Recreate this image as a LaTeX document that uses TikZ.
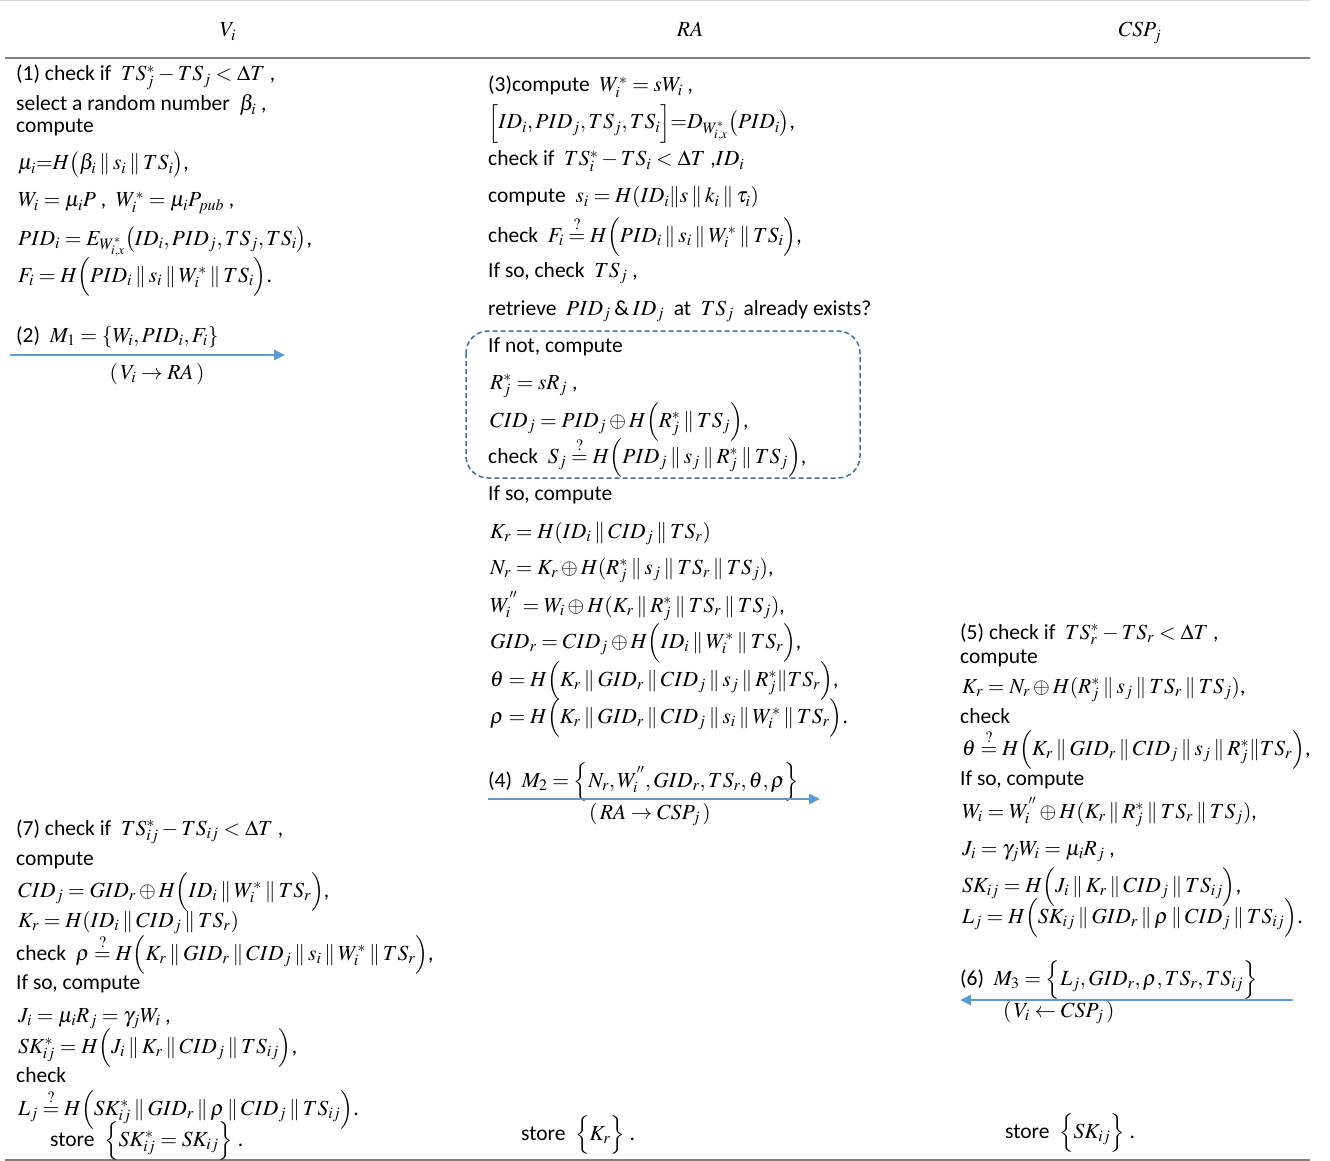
\documentclass[tikz,border=0pt]{standalone}
\usepackage{mathptmx}
\usepackage[no-math]{fontspec}
\setmainfont{Carlito}
\usetikzlibrary{arrows.meta}
\newcommand{\cc}{\mathbin{\|}}
\newcommand{\qeq}{\stackrel{?}{=}}
\definecolor{arrblue}{HTML}{5B9BD5}
\definecolor{boxblue}{HTML}{41719C}
\definecolor{rulegray}{HTML}{808080}
\definecolor{lightgray}{HTML}{D9D9D9}
\begin{document}
\begin{tikzpicture}[x=1pt,y=-1pt,
  txt/.style={anchor=base west,inner sep=0pt,font=\fontsize{21.5}{24}\selectfont},
  ctr/.style={anchor=base,inner sep=0pt,font=\fontsize{21.5}{24}\selectfont},
  msg/.style={draw=arrblue,line width=2.5pt,-{Triangle[length=11pt,width=10pt]}},
  hrule/.style={draw=rulegray,line width=2pt}]
\useasboundingbox (0,0) rectangle (1330,1161);
% rules
\draw[lightgray,line width=1pt] (0,1) -- (1310,1);
\draw[hrule] (5,58) -- (1310,58);
\draw[hrule] (5,1160) -- (1310,1160);
% headers
\node[ctr] (hV) at (228,37) {$V_i$};
\node[ctr] (hRA) at (690,37) {$RA$};
\node[ctr] (hCSP) at (1140,37) {$CSP_j$};
% column 1
\node[txt] (a1) at (16,81) {(1) check if\ \ $TS_j^{*}-TS_j<\Delta T$ ,};
\node[txt] (a2) at (16,111) {select a random number\ \ $\beta_i$ ,};
\node[txt] (a3) at (16,133) {compute};
\node[txt] (a4) at (18,170) {$\mu_i{=}H\bigl(\beta_i \cc s_i \cc TS_i\bigr)$,};
\node[txt] (a5) at (18,207) {$W_i=\mu_i P$ ,\ \ $W_i^{*}=\mu_i P_{pub}$ ,};
\node[txt] (a6) at (18,245) {$PID_i = E_{W^{*}_{i,x}}\bigl(ID_i, PID_j, TS_j, TS_i\bigr)$,};
\node[txt] (a7) at (18,282) {$F_i = H\Bigl(PID_i \cc s_i \cc W_i^{*} \cc TS_i\Bigr)$.};
\node[txt] (a8) at (16,342) {(2)\ \ $M_1=\{W_i, PID_i, F_i\}$};
\node[ctr] (a9) at (157,379) {$(\,V_i\to RA\,)$};
\coordinate (m1s) at (10,355);
\coordinate (m1e) at (285,355);
\draw[msg] (m1s) -- (m1e);
% column 2
\node[txt] (b1) at (488,92) {(3)compute\ \ $W_i^{*}=sW_i$ ,};
\node[txt] (b2) at (488,129) {$\Bigl[ID_i, PID_j, TS_j, TS_i\Bigr]{=}D_{W^{*}_{i,x}}\bigl(PID_i\bigr)$,};
\node[txt] (b3) at (488,166) {check if\ \ $TS_i^{*}-TS_i<\Delta T$ ,$ID_i$};
\node[txt] (b4) at (488,203) {compute\ \ $s_i=H(ID_i\| s\cc k_i\cc\tau_i)$};
\node[txt] (b5) at (488,242) {check\ \ $F_i\qeq H\Bigl(PID_i\cc s_i\cc W_i^{*}\cc TS_i\Bigr)$,};
\node[txt] (b6) at (488,277) {If so, check\ \ $TS_j$ ,};
\node[txt] (b7) at (488,315) {retrieve\ \ $PID_j$\,\&\,$ID_j$\ \ at\ \ $TS_j$\ \ already exists?};
\node[txt] (b8) at (488,352) {If not, compute};
\node[txt] (b9) at (490,389) {$R_j^{*}=sR_j$ ,};
\node[txt] (b10) at (490,427) {$CID_j=PID_j\oplus H\Bigl(R_j^{*}\cc TS_j\Bigr)$,};
\node[txt] (b11) at (488,463) {check\ \ $S_j\qeq H\Bigl(PID_j\cc s_j\cc R_j^{*}\cc TS_j\Bigr)$,};
\draw[boxblue,line width=1.5pt,dash pattern=on 5pt off 3pt,rounded corners=22pt] (466,331) rectangle (860,478);
\node[txt] (b12) at (488,500) {If so, compute};
\node[txt] (b13) at (490,538) {$K_r=H(ID_i\cc CID_j\cc TS_r)$};
\node[txt] (b14) at (490,574) {$N_r=K_r\oplus H(R_j^{*}\cc s_j\cc TS_r\cc TS_j)$,};
\node[txt] (b15) at (490,612) {$W_i^{''}=W_i\oplus H(K_r\cc R_j^{*}\cc TS_r\cc TS_j)$,};
\node[txt] (b16) at (490,648) {$GID_r=CID_j\oplus H\Bigl(ID_i\cc W_i^{*}\cc TS_r\Bigr)$,};
\node[txt] (b17) at (490,686) {$\theta=H\Bigl(K_r\cc GID_r\cc CID_j\cc s_j\cc R_j^{*}\| TS_r\Bigr)$,};
\node[txt] (b18) at (490,723) {$\rho=H\Bigl(K_r\cc GID_r\cc CID_j\cc s_i\cc W_i^{*}\cc TS_r\Bigr)$.};
\node[txt] (b19) at (488,787) {(4)\ \ $M_2=\Bigl\{N_r, W_i^{''}, GID_r, TS_r, \theta, \rho\Bigr\}$};
\node[ctr] (b20) at (650,819) {$(\,RA\to CSP_j\,)$};
\coordinate (m2s) at (488,799);
\coordinate (m2e) at (820,799);
\draw[msg] (m2s) -- (m2e);
\node[txt] (b21) at (521,1140) {store\ \ $\Bigl\{K_r\Bigr\}$ .};
% column 3
\node[txt] (c1) at (960,639) {(5) check if\ \ $TS_r^{*}-TS_r<\Delta T$ ,};
\node[txt] (c2) at (960,663) {compute};
\node[txt] (c3) at (962,693) {$K_r=N_r\oplus H(R_j^{*}\cc s_j\cc TS_r\cc TS_j)$,};
\node[txt] (c4) at (960,723) {check};
\node[txt] (c5) at (962,755) {$\theta\qeq H\Bigl(K_r\cc GID_r\cc CID_j\cc s_j\cc R_j^{*}\|TS_r\Bigr)$,};
\node[txt] (c6) at (960,785) {If so, compute};
\node[txt] (c7) at (962,818) {$W_i=W_i^{''}\oplus H(K_r\cc R_j^{*}\cc TS_r\cc TS_j)$,};
\node[txt] (c8) at (962,855) {$J_i=\gamma_j W_i=\mu_i R_j$ ,};
\node[txt] (c9) at (962,892) {$SK_{ij}=H\Bigl(J_i\cc K_r\cc CID_j\cc TS_{ij}\Bigr)$,};
\node[txt] (c10) at (962,923) {$L_j=H\Bigl(SK_{ij}\cc GID_r\cc\rho\cc CID_j\cc TS_{ij}\Bigr)$.};
\node[txt] (c11) at (960,985) {(6)\ \ $M_3=\Bigl\{L_j, GID_r, \rho, TS_r, TS_{ij}\Bigr\}$};
\node[txt] (c12) at (1003,1017) {$(\,V_i\leftarrow CSP_j\,)$};
\coordinate (m3s) at (1293,1000);
\coordinate (m3e) at (960,1000);
\draw[msg] (m3s) -- (m3e);
\node[txt] (c13) at (1005,1138) {store\ \ $\Bigl\{SK_{ij}\Bigr\}$ .};
% column 1 bottom
\node[txt] (d1) at (16,835) {(7) check if\ \ $TS_{ij}^{*}-TS_{ij}<\Delta T$ ,};
\node[txt] (d2) at (16,865) {compute};
\node[txt] (d3) at (18,897) {$CID_j=GID_r\oplus H\Bigl(ID_i\cc W_i^{*}\cc TS_r\Bigr)$,};
\node[txt] (d4) at (18,927) {$K_r=H(ID_i\cc CID_j\cc TS_r)$};
\node[txt] (d5) at (16,960) {check\ \ $\rho\qeq H\Bigl(K_r\cc GID_r\cc CID_j\cc s_i\cc W_i^{*}\cc TS_r\Bigr)$,};
\node[txt] (d6) at (16,989) {If so, compute};
\node[txt] (d7) at (18,1022) {$J_i=\mu_i R_j=\gamma_j W_i$ ,};
\node[txt] (d8) at (18,1053) {$SK_{ij}^{*}=H\Bigl(J_i\cc K_r\cc CID_j\cc TS_{ij}\Bigr)$,};
\node[txt] (d9) at (16,1082) {check};
\node[txt] (d10) at (18,1115) {$L_j\qeq H\Bigl(SK_{ij}^{*}\cc GID_r\cc\rho\cc CID_j\cc TS_{ij}\Bigr)$.};
\node[txt] (d11) at (50,1146) {store\ \ $\Bigl\{SK_{ij}^{*}=SK_{ij}\Bigr\}$ .};
\end{tikzpicture}
\end{document}
